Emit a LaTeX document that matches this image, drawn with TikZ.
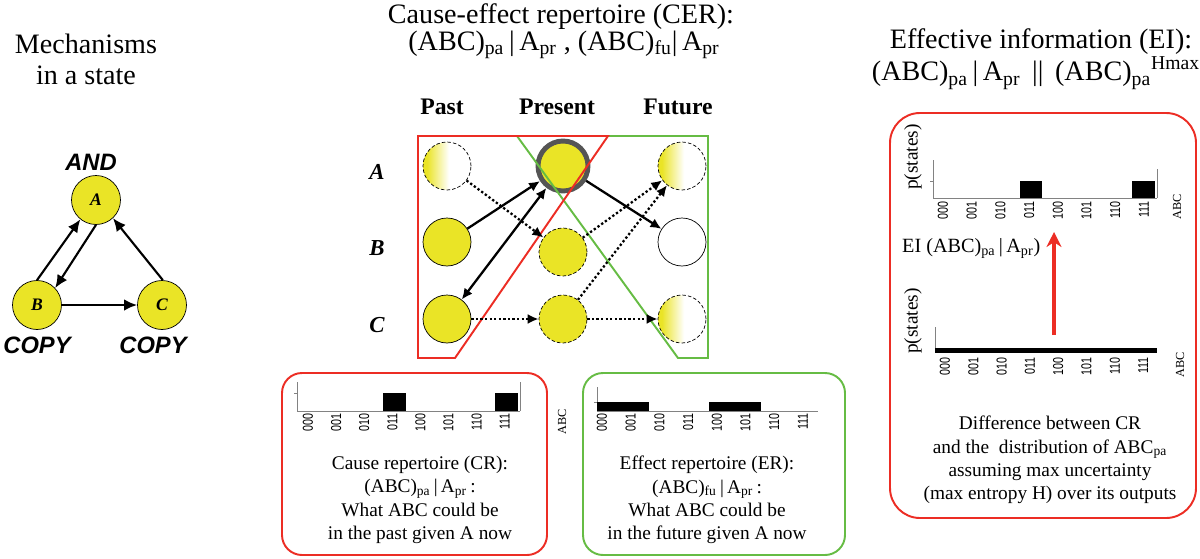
\documentclass[tikz,border=0pt]{standalone}
\usepackage{fontspec}
\setmainfont{Liberation Serif}
\setsansfont{Liberation Sans}
\usetikzlibrary{arrows.meta}

\definecolor{cyel}{RGB}{234,228,38}
\definecolor{cred}{RGB}{236,45,36}
\definecolor{cgreen}{RGB}{102,188,68}
\definecolor{cring}{RGB}{85,85,85}
\definecolor{caxis}{RGB}{130,130,130}
\pgfdeclarehorizontalshading{fadeyel}{100bp}{color(0bp)=(cyel); color(29bp)=(cyel);
  color(52bp)=(white); color(100bp)=(white)}

\begin{document}
\begin{tikzpicture}[x=0.02cm,y=-0.02cm,
    title/.style={font=\fontsize{16}{18}\selectfont},
    body/.style={font=\fontsize{11}{13.2}\selectfont,align=center},
    head/.style={font=\fontsize{13.5}{16}\selectfont\bfseries},
    rowlab/.style={font=\fontsize{13}{15}\selectfont\bfseries\itshape},
    gate/.style={font=\fontsize{13.5}{15}\selectfont\sffamily\bfseries\itshape},
    netnode/.style={circle,draw,fill=cyel,minimum size=0.98cm,inner sep=0pt,
        font=\fontsize{10}{12}\selectfont\bfseries\itshape},
    mech/.style={circle,draw,fill=cyel,minimum size=0.96cm,inner sep=0pt},
    mechdash/.style={mech,dash pattern=on 2pt off 1.2pt},
    mechfade/.style={circle,draw,dash pattern=on 2pt off 1.2pt,minimum size=0.96cm,
        inner sep=0pt,shading=fadeyel},
    mechoff/.style={circle,draw,fill=white,minimum size=0.96cm,inner sep=0pt},
    netarrow/.style={line width=1.2pt,-{Latex[length=2.6mm,width=2.3mm]}},
    link/.style={line width=1.3pt,-{Latex[length=2.2mm,width=2mm]}},
    dotlink/.style={link,dash pattern=on 1.3pt off 1.3pt},
    frame/.style={line width=1.1pt,rounded corners=0.4cm},
    tick/.style={font=\fontsize{8.2}{9}\selectfont\sffamily,rotate=90,xscale=0.74,
        anchor=east,inner sep=0pt},
    abc/.style={font=\fontsize{7}{8}\selectfont,rotate=90,inner sep=0pt},
    pstates/.style={font=\fontsize{11}{12}\selectfont,rotate=90,inner sep=0pt},
    axis/.style={caxis,line width=0.5pt}]
\useasboundingbox (0,0) rectangle (1200,558);

% mechanisms in a state
\node[title] (mtitle1) at (86,44) {Mechanisms};
\node[title] (mtitle2) at (86,75) {in a state};
\node[netnode] (A) at (96,200) {A};
\node[netnode] (B) at (37,305) {B};
\node[netnode] (C) at (162,305) {C};
\node[gate] (and) at (91,162) {AND};
\node[gate] (copyb) at (37,345) {COPY};
\node[gate] (copyc) at (153,345) {COPY};
\draw[netarrow] (B.90) -- (A.231);
\draw[netarrow] (A.270) -- (B.43);
\draw[netarrow] (C.88) -- (A.313);
\draw[netarrow] (B.0) -- (C.180);

% cause-effect repertoire
\node[title] (cert1) at (561,17) {Cause-effect repertoire (CER):};
\node[title] (cert2) at (564,45) {(ABC)\textsubscript{pa}\,|\,A\textsubscript{pr} , (ABC)\textsubscript{fu}|\,A\textsubscript{pr}};
\node[head] (past) at (442,107) {Past};
\node[head] (present) at (557,107) {Present};
\node[head] (future) at (678,107) {Future};
\node[rowlab] (rowa) at (377,172) {A};
\node[rowlab] (rowb) at (377,248) {B};
\node[rowlab] (rowc) at (377,325) {C};

\node[mechfade] (pa) at (447,166) {};
\node[mech] (pb) at (447,242) {};
\node[mech] (pc) at (447,319) {};
\node[mech,draw=cring,line width=2.8pt,minimum size=1cm] (na) at (563,166) {};
\node[mechdash] (nb) at (563,252) {};
\node[mechdash] (nc) at (563,319) {};
\node[mechfade] (fa) at (682,166) {};
\node[mechoff] (fb) at (682,242) {};
\node[mechfade] (fc) at (682,319) {};

\draw[cgreen,line width=1.1pt] (517,136) -- (708,136) -- (708,358) -- (678,358) -- cycle;
\draw[cred,line width=1.1pt] (418,136) -- (608,136) -- (455,358) -- (418,358) -- cycle;

\draw[link] (pb) -- (na);
\draw[link,{Latex[length=2.2mm,width=2mm]}-{Latex[length=2.2mm,width=2mm]}] (pc) -- (na);
\draw[dotlink] (pa) -- (nb);
\draw[dotlink] (pc) -- (nc);
\draw[link] (na) -- (fb);
\draw[dotlink] (nb) -- (fa);
\draw[dotlink] (nc) -- (fa);
\draw[dotlink] (nc) -- (fc);

% cause repertoire
\draw[cred,frame] (282,373) rectangle (547,555);
\draw[axis] (297,382) -- (297,411) (294,393) -- (297,393) (520,382) -- (520,411);
\fill (383,393) rectangle (406,411);
\fill (495,393) rectangle (518,411);
\draw[axis] (297,411) -- (520,411);
\foreach \s [count=\i from 0] in {000,001,010,011,100,101,110,111}
  \node[tick] at (308+28.1*\i,413) {\s};
\node[abc] (abccr) at (562,422) {ABC};
\node[body,anchor=north] (crtext) at (420,450) {Cause repertoire (CR):\\
  (ABC)\textsubscript{pa}\,|\,A\textsubscript{pr}\,:\\What ABC could be\\in the past given A now};

% effect repertoire
\draw[cgreen,frame] (583,373) rectangle (845,555);
\draw[axis] (597,387) -- (597,411) (594,402) -- (597,402);
\fill (597,402) rectangle (649,411);
\fill (709,402) rectangle (761,411);
\draw[axis] (597,411) -- (818,411);
\foreach \s [count=\i from 0] in {000,001,010,011,100,101,110,111}
  \node[tick] at (602+28.7*\i,413) {\s};
\node[body,anchor=north] (ertext) at (707,450) {Effect repertoire (ER):\\
  (ABC)\textsubscript{fu}\,|\,A\textsubscript{pr}\,:\\What ABC could be\\in the future given A now};

% effective information
\node[title] (eit1) at (1041,42) {Effective information (EI):};
\node[title] (eit2) at (1036,73) {(ABC)\textsubscript{pa}\,|\,A\textsubscript{pr} \,||\, (ABC)\textsubscript{pa}\textsuperscript{Hmax}};
\draw[cred,frame,rounded corners=0.6cm] (890,113) rectangle (1196,518);

\node[pstates] (ptop) at (913,157) {p(states)};
\draw[axis] (933,160) -- (933,198) (930,181) -- (933,181) (1157,169) -- (1157,198);
\fill (1020,181) rectangle (1042,198);
\fill (1132,181) rectangle (1155,198);
\draw[axis] (933,198) -- (1157,198);
\foreach \s [count=\i from 0] in {000,001,010,011,100,101,110,111}
  \node[tick] at (943+28.7*\i,201) {\s};
\node[abc] (abctop) at (1177,207) {ABC};

\node[font=\fontsize{11.5}{13}\selectfont,anchor=base west] (eilab) at (896,252)
  {EI (ABC)\textsubscript{pa}\,|\,A\textsubscript{pr})};
\coordinate (eilow) at (1054,335);
\coordinate (eihigh) at (1054,232);
\draw[cred,line width=2pt,-{Stealth[length=3mm,width=3mm]}] (eilow) -- (eihigh);

\node[pstates] (pbot) at (913,321) {p(states)};
\draw[axis] (935,327) -- (935,353);
\fill (935,348) rectangle (1157,353);
\foreach \s [count=\i from 0] in {000,001,010,011,100,101,110,111}
  \node[tick] at (945+28.3*\i,357) {\s};
\node[abc] (abcbot) at (1180,365) {ABC};
\node[body,anchor=north] (eitext) at (1050,410) {Difference between CR\\
  and the\ \ distribution of ABC\textsubscript{pa}\\assuming max uncertainty\\(max entropy H) over its outputs};
\end{tikzpicture}
\end{document}
